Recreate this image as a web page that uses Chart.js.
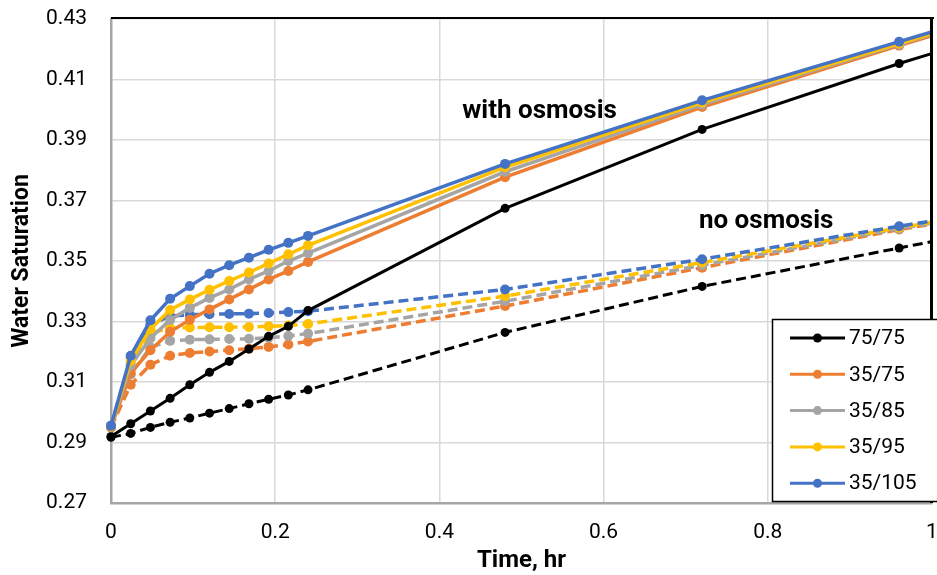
<!DOCTYPE html>
<html>
<head>
<meta charset="utf-8">
<script src="https://cdn.jsdelivr.net/npm/chart.js@4.4.1/dist/chart.umd.min.js"></script>
<style>
  html, body { margin: 0; padding: 0; background: #fff; }
  #wrap { width: 937px; height: 575px; }
</style>
</head>
<body>
<div id="wrap"><canvas id="satChart"></canvas></div>
<script>
// sample times, hr (last one sits past the axis end and gets clipped)
const timeHr = [0, 0.024, 0.048, 0.072, 0.096, 0.12, 0.144, 0.168, 0.192, 0.216, 0.24, 0.48, 0.72, 0.96, 1.2];

const xTicks = [0, 0.2, 0.4, 0.6, 0.8, 1];
const yTicks = [0.27, 0.29, 0.31, 0.33, 0.35, 0.37, 0.39, 0.41, 0.43];

const caseLabels = ['75/75', '35/75', '35/85', '35/95', '35/105'];
const caseColors = ['#000000', '#ED7D31', '#A5A5A5', '#FFC000', '#4472C4'];

// water saturation, with osmosis (solid)
const osm75_75  = [0.2920, 0.2962, 0.3004, 0.3046, 0.3091, 0.3132, 0.3168, 0.3209, 0.3251, 0.3284, 0.3336, 0.3674, 0.3935, 0.4153, 0.4350];
const osm35_75  = [0.2950, 0.3130, 0.3205, 0.3266, 0.3306, 0.3340, 0.3373, 0.3406, 0.3439, 0.3467, 0.3497, 0.3777, 0.4009, 0.4212, 0.4410];
const osm35_85  = [0.2952, 0.3155, 0.3245, 0.3305, 0.3345, 0.3378, 0.3406, 0.3439, 0.3467, 0.3500, 0.3526, 0.3795, 0.4017, 0.4216, 0.4412];
const osm35_95  = [0.2953, 0.3170, 0.3275, 0.3338, 0.3373, 0.3405, 0.3434, 0.3462, 0.3492, 0.3522, 0.3552, 0.3810, 0.4024, 0.4219, 0.4415];
const osm35_105 = [0.2955, 0.3187, 0.3304, 0.3375, 0.3417, 0.3458, 0.3486, 0.3511, 0.3537, 0.3560, 0.3583, 0.3821, 0.4031, 0.4225, 0.4420];

// water saturation, no osmosis (dashed)
const noOsm75_75  = [0.2917, 0.2930, 0.2950, 0.2967, 0.2981, 0.2997, 0.3012, 0.3028, 0.3043, 0.3057, 0.3074, 0.3264, 0.3416, 0.3543, 0.3670];
const noOsm35_75  = [0.2950, 0.3091, 0.3157, 0.3187, 0.3196, 0.3201, 0.3205, 0.3210, 0.3216, 0.3224, 0.3234, 0.3351, 0.3478, 0.3604, 0.3712];
const noOsm35_85  = [0.2952, 0.3125, 0.3215, 0.3236, 0.3240, 0.3241, 0.3242, 0.3243, 0.3246, 0.3252, 0.3260, 0.3367, 0.3486, 0.3607, 0.3715];
const noOsm35_95  = [0.2953, 0.3160, 0.3262, 0.3278, 0.3280, 0.3281, 0.3281, 0.3282, 0.3284, 0.3287, 0.3292, 0.3384, 0.3495, 0.3610, 0.3718];
const noOsm35_105 = [0.2955, 0.3180, 0.3290, 0.3318, 0.3322, 0.3324, 0.3325, 0.3326, 0.3328, 0.3331, 0.3334, 0.3406, 0.3506, 0.3615, 0.3720];

const withOsmosis = [osm75_75, osm35_75, osm35_85, osm35_95, osm35_105];
const noOsmosis = [noOsm75_75, noOsm35_75, noOsm35_85, noOsm35_95, noOsm35_105];

const notes = [
  { text: 'with osmosis', x: 0.522, y: 0.3994 },
  { text: 'no osmosis', x: 0.798, y: 0.3632 }
];

const FONT = 'Roboto, "Liberation Sans", Arial, sans-serif';

function makeSet(i, values, dashed) {
  const black = i === 0;
  return {
    label: caseLabels[i] + (dashed ? ' (no osmosis)' : ''),
    data: timeHr.map((t, k) => ({ x: t, y: values[k] })),
    borderColor: caseColors[i],
    backgroundColor: caseColors[i],
    borderWidth: black ? 3 : 3.5,
    borderDash: dashed ? [10, 5] : [],
    pointRadius: black ? 4.5 : 5,
    pointBorderWidth: 0,
    pointBackgroundColor: caseColors[i],
    tension: 0,
    clip: { left: 8, top: 0, right: 0, bottom: 8 }
  };
}

// Chart.js paints dataset 0 last, so build the list top-most first
const datasets = [];
for (let i = caseLabels.length - 1; i >= 0; i--) datasets.push(makeSet(i, withOsmosis[i], false));
for (let i = caseLabels.length - 1; i >= 0; i--) datasets.push(makeSet(i, noOsmosis[i], true));

const frame = {
  id: 'frame',
  afterDatasetsDraw(chart) {
    const { ctx, chartArea: a } = chart;
    ctx.save();
    ctx.strokeStyle = '#000';
    ctx.lineWidth = 2;
    ctx.beginPath();
    ctx.moveTo(a.left, a.top - 1);
    ctx.lineTo(a.right + 2, a.top - 1);
    ctx.stroke();
    ctx.lineWidth = 3;
    ctx.beginPath();
    ctx.moveTo(a.right - 0.5, a.top - 2);
    ctx.lineTo(a.right - 0.5, a.bottom);
    ctx.stroke();
    ctx.restore();
  }
};

const notesPlugin = {
  id: 'notes',
  afterDatasetsDraw(chart) {
    const { ctx, scales: { x, y } } = chart;
    ctx.save();
    ctx.font = 'bold 26px ' + FONT;
    ctx.fillStyle = '#000';
    ctx.textAlign = 'center';
    ctx.textBaseline = 'middle';
    notes.forEach(n => ctx.fillText(n.text, x.getPixelForValue(n.x), y.getPixelForValue(n.y)));
    ctx.restore();
  }
};

const legendBox = {
  id: 'legendBox',
  afterDraw(chart) {
    const { ctx } = chart;
    const left = 772.5, top = 319.5, w = 170, h = 182;
    ctx.save();
    ctx.fillStyle = '#fff';
    ctx.fillRect(left, top, w, h);
    ctx.strokeStyle = '#000';
    ctx.lineWidth = 1.5;
    ctx.strokeRect(left, top, w, h);
    ctx.font = '21px ' + FONT;
    ctx.textBaseline = 'middle';
    caseLabels.forEach((lab, i) => {
      const ds = chart.data.datasets.find(d => d.label === lab);
      const cy = 338 + i * 36.3;
      ctx.strokeStyle = ds.borderColor;
      ctx.lineWidth = 3;
      ctx.beginPath();
      ctx.moveTo(790, cy);
      ctx.lineTo(845, cy);
      ctx.stroke();
      ctx.fillStyle = ds.borderColor;
      ctx.beginPath();
      ctx.arc(817.5, cy, 4.5, 0, Math.PI * 2);
      ctx.fill();
      ctx.fillStyle = '#000';
      ctx.fillText(lab, 849, cy + 1);
    });
    ctx.restore();
  }
};

new Chart(document.getElementById('satChart'), {
  type: 'line',
  data: { datasets },
  plugins: [frame, notesPlugin, legendBox],
  options: {
    responsive: true,
    maintainAspectRatio: false,
    animation: false,
    events: [],
    layout: { padding: { left: 0, right: 1, top: 19, bottom: 0 } },
    plugins: { legend: { display: false }, tooltip: { enabled: false } },
    scales: {
      x: {
        type: 'linear',
        min: 0,
        max: 1,
        afterBuildTicks: s => { s.ticks = xTicks.map(v => ({ value: v })); },
        afterFit: s => { s.height = 72; s.paddingLeft = 0; s.paddingRight = 0; },
        grid: { color: '#d9d9d9', lineWidth: 1.5, drawTicks: false },
        border: { color: '#a6a6a6', width: 2.5 },
        ticks: { color: '#000', padding: 17, maxRotation: 0, font: { family: FONT, size: 21 }, callback: v => String(v) },
        title: { display: true, text: 'Time, hr', color: '#000', padding: { top: 0, bottom: 0 }, font: { family: FONT, size: 24, weight: 'bold' } }
      },
      y: {
        min: 0.27,
        max: 0.43,
        afterBuildTicks: s => { s.ticks = yTicks.map(v => ({ value: v })); },
        afterFit: s => { s.width = 111; s.paddingTop = 0; s.paddingBottom = 0; },
        grid: { color: '#d9d9d9', lineWidth: 1.5, drawTicks: false },
        border: { color: '#a6a6a6', width: 2.5 },
        ticks: { color: '#000', padding: 24, font: { family: FONT, size: 21 }, callback: v => v.toFixed(2) },
        title: { display: true, text: 'Water Saturation', color: '#000', padding: { top: 8, bottom: 0 }, font: { family: FONT, size: 23, weight: 'bold' } }
      }
    }
  }
});
</script>
</body>
</html>
